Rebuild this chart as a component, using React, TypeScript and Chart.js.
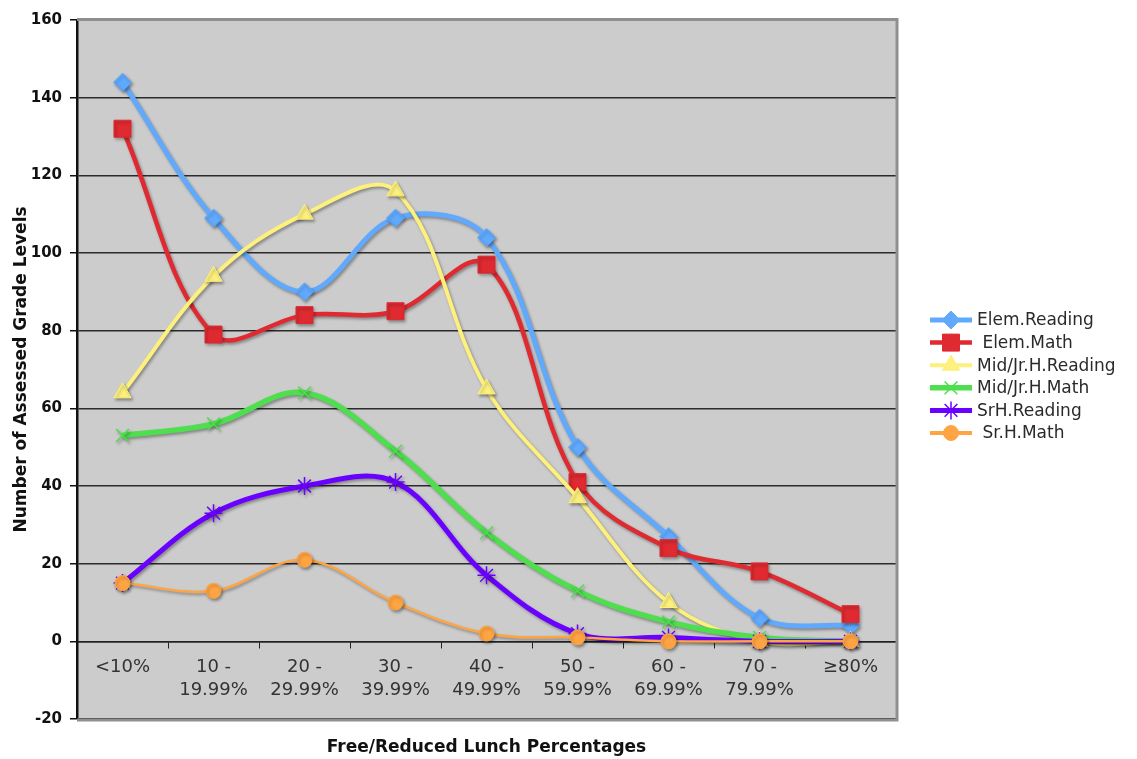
import React, { useEffect, useRef } from 'react';
import { Chart, registerables } from 'chart.js';
import { drawPoint } from 'chart.js/helpers';

Chart.register(...registerables);

// Lunch-percentage bands along the x axis
const categories: (string | string[])[] = [
  '<10%',
  ['10 -', '19.99%'],
  ['20 -', '29.99%'],
  ['30 -', '39.99%'],
  ['40 -', '49.99%'],
  ['50 -', '59.99%'],
  ['60 -', '69.99%'],
  ['70 -', '79.99%'],
  '≥80%',
];

// Number of assessed grade levels per band
const elemReading = [144, 109, 90, 109, 104, 50, 27, 6, 4];
const elemMath = [132, 79, 84, 85, 97, 41, 24, 18, 7];
const midReading = [64, 94, 110, 116, 65, 37, 10, 0, 0];
const midMath = [53, 56, 64, 49, 28, 13, 5, 1, 0];
const srReading = [15, 33, 40, 41, 17, 2, 1, 0, 0];
const srMath = [15, 13, 21, 10, 2, 1, 0, 0, 0];

const seriesNames = ['Elem.Reading', ' Elem.Math', 'Mid/Jr.H.Reading', 'Mid/Jr.H.Math', 'SrH.Reading', ' Sr.H.Math'];
const seriesValues = [elemReading, elemMath, midReading, midMath, srReading, srMath];

// Value axis range
const yMin = -20;
const yMax = 160;
const yStep = 20;

const seriesStyles = [
  { color: '#60a9fd', width: 5, point: 'rectRot', radius: 9, pointBorder: 1 },
  { color: '#de2a30', width: 4.5, point: 'rect', radius: 12, pointBorder: 1 },
  { color: '#fdf07c', width: 4, point: 'triangle', radius: 10, pointBorder: 1 },
  { color: '#4ede4e', width: 5.5, point: 'crossRot', radius: 9, pointBorder: 1.5 },
  { color: '#6a00ff', width: 5, point: 'star', radius: 9, pointBorder: 1.5 },
  { color: '#fea443', width: 2.5, point: 'circle', radius: 7.5, pointBorder: 1 },
];

const FONT = '"DejaVu Sans", Verdana, sans-serif';

const chartDecor = {
  id: 'chartDecor',
  beforeDraw(chart: any) {
    const { ctx, chartArea: a } = chart;
    ctx.save();
    ctx.fillStyle = '#cccccc';
    ctx.fillRect(a.left, a.top, a.right - a.left, a.bottom - a.top);
    ctx.restore();
  },
  beforeDatasetsDraw(chart: any) {
    const { ctx, chartArea: a } = chart;
    // plot-area frame (top, right, bottom)
    ctx.save();
    ctx.strokeStyle = '#8f8f8f';
    ctx.lineWidth = 3;
    ctx.beginPath();
    ctx.moveTo(a.left, a.top - 0.5);
    ctx.lineTo(a.right + 1, a.top - 0.5);
    ctx.lineTo(a.right + 1, a.bottom + 1);
    ctx.lineTo(a.left, a.bottom + 1);
    ctx.stroke();
    ctx.restore();
    // soft drop shadow under the series
    ctx.save();
    ctx.shadowColor = 'rgba(0,0,0,0.35)';
    ctx.shadowOffsetX = 1.5;
    ctx.shadowOffsetY = 2;
    ctx.shadowBlur = 3;
  },
  afterDatasetsDraw(chart: any) {
    chart.ctx.restore();
  },
  afterDraw(chart: any) {
    const { ctx, chartArea: a } = chart;
    ctx.save();
    // axis titles
    ctx.fillStyle = '#111';
    ctx.font = `bold 17px ${FONT}`;
    ctx.textAlign = 'center';
    ctx.textBaseline = 'middle';
    ctx.fillText('Free/Reduced Lunch Percentages', (a.left + a.right) / 2, 748);
    ctx.save();
    ctx.translate(22, (a.top + a.bottom) / 2);
    ctx.rotate(-Math.PI / 2);
    ctx.fillText('Number of Assessed Grade Levels', 0, 0);
    ctx.restore();

    // legend
    const x0 = 930;
    const x1 = 972;
    let y = 320;
    seriesNames.forEach((name, i) => {
      const s = seriesStyles[i];
      ctx.strokeStyle = s.color;
      ctx.fillStyle = s.color;
      ctx.lineWidth = Math.max(s.width, 4);
      ctx.beginPath();
      ctx.moveTo(x0, y);
      ctx.lineTo(x1, y);
      ctx.stroke();
      ctx.lineWidth = s.pointBorder;
      drawPoint(ctx, { pointStyle: s.point as any, radius: s.radius, rotation: 0, borderWidth: s.pointBorder }, (x0 + x1) / 2, y);
      ctx.fillStyle = '#2a2a2a';
      ctx.font = `17px ${FONT}`;
      ctx.textAlign = 'left';
      ctx.textBaseline = 'middle';
      ctx.fillText(name, 977, y + 1);
      y += 22.6;
    });
    ctx.restore();
  },
};

export default function App() {
  const canvasRef = useRef<HTMLCanvasElement | null>(null);

  useEffect(() => {
    if (!canvasRef.current) return;
    const datasets = seriesNames.map((name, i) => {
      const s = seriesStyles[i];
      return {
        label: name,
        data: seriesValues[i],
        borderColor: s.color,
        backgroundColor: s.color,
        borderWidth: s.width,
        tension: 0.36,
        pointStyle: s.point as any,
        pointRadius: s.radius,
        pointHoverRadius: s.radius,
        pointBackgroundColor: s.color,
        pointBorderColor: s.color,
        pointBorderWidth: s.pointBorder,
        fill: false,
        order: seriesNames.length - i,
      };
    });

    const chart = new Chart(canvasRef.current, {
      type: 'line',
      data: { labels: categories as any, datasets },
      options: {
        animation: false,
        responsive: false,
        devicePixelRatio: 1,
        layout: { padding: { left: 0, top: 20, right: 241, bottom: 40 } },
        plugins: {
          legend: { display: false },
          tooltip: { enabled: false },
          title: { display: false },
        },
        scales: {
          x: {
            type: 'category',
            position: { y: 0 } as any,
            offset: true,
            grid: {
              drawOnChartArea: false,
              drawTicks: true,
              tickLength: 6,
              tickColor: '#222',
              offset: true,
            },
            border: { display: true, color: '#222', width: 1.5 },
            ticks: {
              autoSkip: false,
              maxRotation: 0,
              padding: 8,
              color: '#333',
              font: { family: FONT, size: 18, lineHeight: 1.3 },
            },
          },
          y: {
            min: yMin,
            max: yMax,
            afterFit: (scale: any) => {
              scale.width = 77;
            },
            ticks: {
              stepSize: yStep,
              padding: 8,
              color: '#111',
              font: { family: FONT, size: 15, weight: 'bold' },
            },
            grid: {
              color: '#2b2b2b',
              lineWidth: 1.5,
              drawTicks: true,
              tickLength: 7,
              tickColor: '#111',
            },
            border: { display: true, color: '#111', width: 2.5 },
          },
        },
      },
      plugins: [chartDecor],
    });

    return () => chart.destroy();
  }, []);

  return (
    <div style={{ position: 'absolute', left: 0, top: 0, width: 1137, height: 759, background: '#fff' }}>
      <canvas ref={canvasRef} width={1137} height={759} style={{ display: 'block' }} />
    </div>
  );
}
